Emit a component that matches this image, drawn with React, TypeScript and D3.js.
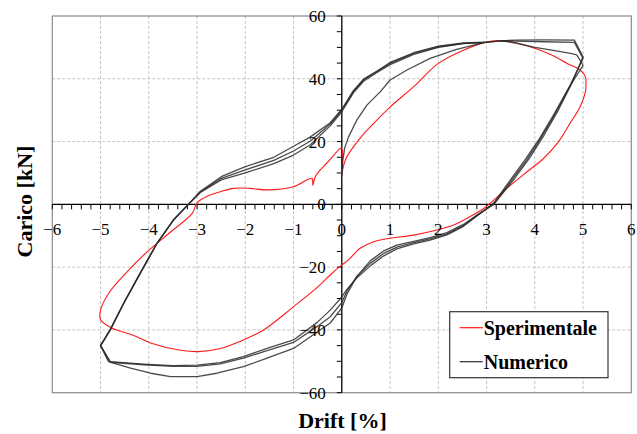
import * as d3 from 'd3';

const W = 637;
const H = 434;

// axis ticks
const xTicks = [-6, -5, -4, -3, -2, -1, 0, 1, 2, 3, 4, 5, 6];
const yTicks = [-60, -40, -20, 0, 20, 40, 60];

const legendLabels = ['Sperimentale', 'Numerico'];

// Sperimentale [drift %, carico kN]
const sperimentale: [number, number][] = [
  [0, 9.5], [0.04, 12.5], [0.1, 15], [0.24, 18.3], [0.45, 22.4], [0.66, 25.8], [1.0, 31],
  [1.49, 37.5], [2.0, 44.9], [2.52, 49.1], [2.97, 51.6], [3.24, 52.2], [3.5, 51.8],
  [3.8, 50.7], [4.35, 47.6], [4.67, 44.9], [4.94, 42.8], [5.05, 40.6], [5.06, 38],
  [5.05, 35.9], [4.94, 31.1], [4.73, 25.8], [4.49, 19.9], [4.18, 14.6], [3.84, 10.4],
  [3.42, 5.1], [3.11, 0.8], [2.94, -1.3], [2.66, -3.9], [2.32, -6.6], [1.97, -8.2],
  [1.49, -9.8], [1.0, -10.8], [0.66, -11.9], [0.38, -14], [0.14, -17.7], [0, -19.3],
  [-0.24, -22.5], [-0.49, -26.2], [-1.0, -32.6], [-1.62, -40], [-2.04, -43.2],
  [-2.52, -45.9], [-2.96, -46.9], [-3.37, -46.4], [-3.93, -44.3], [-4.34, -41.6],
  [-4.76, -39.5], [-5.0, -36.8], [-5.0, -33.7], [-4.83, -28.3], [-4.48, -22],
  [-4.07, -15.6], [-3.58, -9.2], [-3.1, -2.9], [-3.0, 0.5], [-2.8, 2.5], [-2.52, 4.0],
  [-2.24, 5.1], [-1.9, 5.1], [-1.55, 4.6], [-1.0, 5.6], [-0.62, 8.3], [-0.6, 6.1],
  [-0.55, 8.8], [-0.45, 10.9], [-0.31, 13.1], [-0.03, 17.8], [0, 17.8], [0, 9.5],
];

// Numerico, three cycles
const numericoCiclo1: [number, number][] = [
  [0, 8.8], [0.02, 14], [0.06, 18], [0.14, 21.5], [0.31, 26.8], [0.52, 31.6], [0.8, 35.9],
  [1.0, 39.6], [1.35, 42.8], [1.83, 46.5], [2.38, 49.4], [2.97, 51.6], [3.3, 52.1],
  [3.6, 52.3], [4.2, 52.4], [4.82, 52.3], [5.0, 47.0], [4.75, 38.0], [4.47, 29.5],
  [4.19, 22.0], [3.88, 14.5], [3.57, 8.0], [3.23, 1.5], [3.15, 0], [2.8, -3.4],
  [2.52, -6.4], [2.18, -9.0], [1.83, -10.6], [1.49, -11.8], [1.14, -13.0], [0.87, -14.8],
  [0.59, -18.0], [0.31, -23.0], [0.11, -28.5], [0, -33.0], [-0.24, -37.8], [-0.45, -40.0],
  [-1.0, -45.9], [-1.55, -49.0], [-2.04, -51.7], [-2.59, -53.8], [-3.0, -54.9],
  [-3.55, -54.9], [-3.96, -53.8], [-4.38, -52.2], [-4.73, -50.6], [-4.84, -50.0],
  [-5.0, -45.0], [-4.8, -40.0], [-4.52, -31.5], [-4.18, -22.0], [-3.83, -12.4],
  [-3.49, -5.0], [-3.18, 0], [-2.93, 3.8], [-2.5, 7.8], [-2.0, 10.0], [-1.41, 13.0],
  [-1.0, 15.7], [-0.65, 19.0], [-0.24, 25.0], [0, 29.5], [0.24, 35.5], [0.45, 39.2],
  [0.73, 42.0], [1.0, 44.5], [1.49, 47.8], [2.0, 50.0], [2.52, 51.2], [2.97, 51.6],
  [3.3, 52.1],
];

const numericoCiclo2: [number, number][] = [
  [3.3, 52.1], [3.6, 52.0], [4.2, 51.8], [4.82, 51.6], [5.0, 46.5], [4.72, 37.5],
  [4.43, 29.0], [4.14, 21.5], [3.83, 14.1], [3.52, 7.7], [3.2, 1.2], [3.13, 0],
  [2.8, -3.6], [2.52, -6.8], [2.18, -9.4], [1.83, -11.0], [1.49, -12.2], [1.14, -13.6],
  [0.87, -15.6], [0.59, -18.8], [0.31, -23.0], [0.11, -27.5], [0, -31.3], [-0.24, -35.8],
  [-0.5, -38.8], [-1.0, -44.0], [-1.55, -46.6], [-2.04, -49.0], [-2.52, -50.8],
  [-3.0, -51.6], [-3.5, -51.6], [-4.1, -51.1], [-4.8, -50.3], [-5.0, -45.0], [-4.8, -40.0],
  [-4.52, -31.5], [-4.18, -22.0], [-3.83, -12.4], [-3.49, -5.0], [-3.18, 0], [-2.93, 4.0],
  [-2.5, 8.3], [-2.0, 11.0], [-1.41, 14.0], [-1.0, 17.0], [-0.65, 20.2], [-0.24, 25.6],
  [0, 30.0], [0.24, 35.9], [0.45, 39.6], [0.73, 42.3], [1.0, 44.9], [1.49, 48.1],
  [2.0, 50.2], [2.52, 51.3], [2.97, 51.6], [3.3, 52.1],
];

const numericoCiclo3: [number, number][] = [
  [3.3, 52.1], [3.6, 51.4], [4.0, 50.0], [4.35, 49.1], [4.74, 48.1], [4.87, 47.6],
  [5.0, 44.3], [4.68, 36.5], [4.39, 28.5], [4.1, 21.0], [3.79, 14.0], [3.48, 7.5],
  [3.18, 1.0], [3.12, 0], [2.8, -3.7], [2.52, -7.0], [2.18, -9.7], [1.83, -11.4],
  [1.49, -12.6], [1.14, -14.2], [0.87, -16.4], [0.59, -19.6], [0.31, -23.5], [0.11, -27.0],
  [0, -29.5], [-0.24, -33.7], [-0.51, -37.6], [-1.0, -43.2], [-1.55, -45.9], [-2.04, -48.5],
  [-2.52, -50.4], [-3.0, -51.2], [-3.5, -51.4], [-4.11, -50.9], [-4.8, -50.1], [-5.0, -45.0],
  [-4.8, -40.0], [-4.52, -31.5], [-4.18, -22.0], [-3.83, -12.4], [-3.49, -5.0], [-3.18, 0],
  [-2.93, 4.2], [-2.5, 8.8], [-2.0, 12.0], [-1.41, 15.0], [-1.0, 18.5], [-0.65, 21.5],
  [-0.24, 26.0], [0, 30.3], [0.24, 36.2], [0.45, 39.9], [0.73, 42.5], [1.0, 45.2],
  [1.49, 48.3], [2.0, 50.4], [2.52, 51.4], [2.97, 51.7],
];

const numerico = [numericoCiclo1, numericoCiclo2, numericoCiclo3];

const FONT = '"Liberation Serif", "Times New Roman", serif';
const RED = '#ff1a1a';
const DARK = '#2b2b2b';

export default function App() {
  const x = d3.scaleLinear().domain([-6, 6]).range([52.3, 631.3]);
  const y = d3.scaleLinear().domain([-60, 60]).range([392.7, 16]);

  // smooth for the test curve, straight segments for the model output
  const redLine = d3.line<[number, number]>()
    .x(d => x(d[0]))
    .y(d => y(d[1]))
    .curve(d3.curveCatmullRom.alpha(0.5));
  const numLine = d3.line<[number, number]>()
    .x(d => x(d[0]))
    .y(d => y(d[1]));

  // minor ticks
  const xMinor = d3.range(-60, 61, 2).map(v => v / 10);
  const yMinor = d3.range(-60, 61, 5);
  const fmt = (v: number) => (v < 0 ? '\u2212' + Math.abs(v) : String(v));

  const x0 = x(0);
  const y0 = y(0);

  const legX = 449.7, legY = 311.7, legW = 158.3, legH = 66;

  return (
    <svg width={W} height={H} style={{ position: 'absolute', left: 0, top: 0, background: '#fff' }}
      fontFamily={FONT}>
      {/* grid */}
      <g stroke="#c4c4c4" strokeDasharray="3,2" strokeWidth={1}>
        {xTicks.filter(t => t !== 0 && Math.abs(t) !== 6).map(t => (
          <line key={'gx' + t} x1={x(t)} x2={x(t)} y1={y(60)} y2={y(-60)} />
        ))}
        {yTicks.filter(t => t !== 0 && Math.abs(t) !== 60).map(t => (
          <line key={'gy' + t} x1={x(-6)} x2={x(6)} y1={y(t)} y2={y(t)} />
        ))}
      </g>
      {/* frame */}
      <rect x={x(-6)} y={y(60)} width={x(6) - x(-6)} height={y(-60) - y(60)}
        fill="none" stroke="#8a8a8a" strokeWidth={1.2} />

      {/* axes through origin */}
      <g stroke="#000" strokeWidth={1.3}>
        <line x1={x(-6)} x2={x(6)} y1={y0} y2={y0} />
        <line x1={x0} x2={x0} y1={y(60)} y2={y(-60)} />
      </g>
      <g stroke="#000" strokeWidth={1}>
        {xMinor.map(t => (
          <line key={'tx' + t} x1={x(t)} x2={x(t)} y1={y0} y2={y0 + 5} />
        ))}
        {yMinor.map(t => (
          <line key={'ty' + t} x1={x0 - 5} x2={x0} y1={y(t)} y2={y(t)} />
        ))}
      </g>

      {/* series */}
      <path d={redLine(sperimentale) ?? ''} fill="none" stroke={RED} strokeWidth={1.1} />
      {numerico.map((c, i) => (
        <path key={'num' + i} d={numLine(c) ?? ''} fill="none" stroke={DARK}
          strokeWidth={1.3} strokeOpacity={0.85} strokeLinejoin="round" />
      ))}

      {/* tick labels */}
      <g fontSize={17} fill="#000">
        {xTicks.map(t => (
          <text key={'lx' + t} x={x(t)} y={y0 + 31} textAnchor="middle">{fmt(t)}</text>
        ))}
        {yTicks.map(t => (
          <text key={'ly' + t} x={x0 - 16} y={y(t) + 6} textAnchor="end">{fmt(t)}</text>
        ))}
      </g>

      {/* axis titles */}
      <text x={342.5} y={428} textAnchor="middle" fontSize={22} fontWeight="bold">Drift [%]</text>
      <text transform={`translate(32,201.5) rotate(-90)`} textAnchor="middle" fontSize={22}
        fontWeight="bold">Carico [kN]</text>

      {/* legend */}
      <rect x={legX} y={legY} width={legW} height={legH} fill="#fff" stroke="#333" strokeWidth={1.2} />
      {legendLabels.map((l, i) => (
        <g key={l}>
          <line x1={legX + 10} x2={legX + 33} y1={legY + 16 + i * 34} y2={legY + 16 + i * 34}
            stroke={i === 0 ? RED : DARK} strokeWidth={1.2} />
          <text x={legX + 34} y={legY + 23 + i * 34} fontSize={20} fontWeight="bold">{l}</text>
        </g>
      ))}
    </svg>
  );
}
